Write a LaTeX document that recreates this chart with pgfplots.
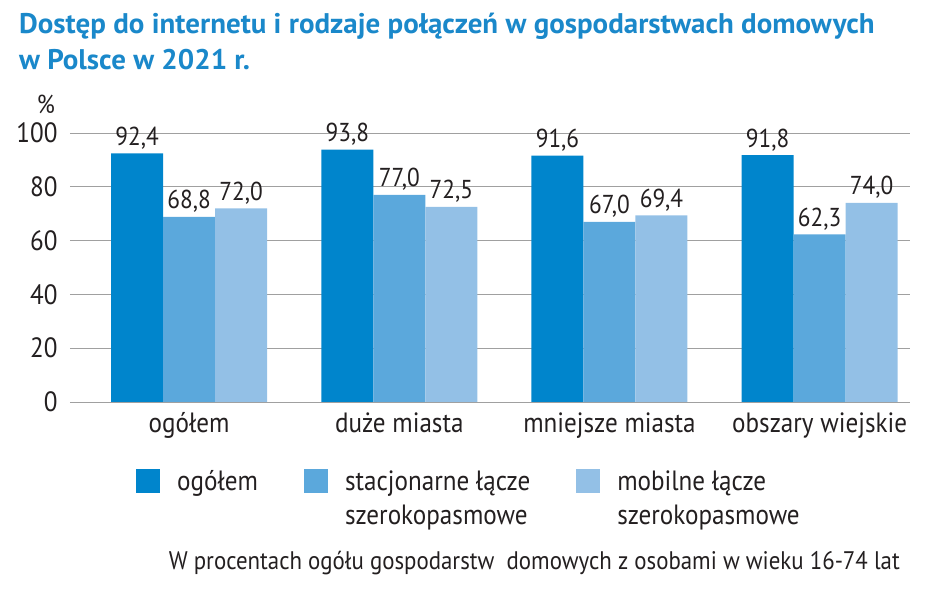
\documentclass[border=0pt]{standalone}
\usepackage{pgfplots}
\pgfplotsset{compat=1.18}
\usepackage{fontspec}
\setmainfont{PT Sans}[FakeStretch=0.9]
\newfontfamily\titlefont{PT Sans}[FakeStretch=1.02]
\definecolor{c1}{HTML}{0085CC}
\definecolor{c2}{HTML}{5BA8DC}
\definecolor{c3}{HTML}{93C0E6}
\definecolor{tcol}{HTML}{1A88CA}
\definecolor{gridc}{HTML}{A0A0A0}
\definecolor{txt}{HTML}{231F20}
\begin{document}
\begin{tikzpicture}[x=1bp,y=1bp]
\path[use as bounding box] (-70,-194) rectangle (870,402);
\begin{axis}[
  at={(0,0)}, anchor=south west,
  scale only axis, width=840bp, height=269bp,
  xmin=-0.567, xmax=3.43, ymin=0, ymax=100,
  axis line style={draw=none},
  major tick length=0pt,
  ymajorgrids, grid style={gridc, line width=0.9pt},
  ytick={0,20,40,60,80,100},
  xtick={0,1,2,3},
  xticklabels={ogółem, duże miasta, mniejsze miasta, obszary wiejskie},
  /pgf/number format/assume math mode=true,
  tick label style={font=\fontsize{28}{32}\selectfont, text=txt},
  yticklabel style={xshift=-9bp},
  xticklabel style={anchor=base, yshift=-31bp, inner sep=0pt},
  ybar=0pt, bar width=52bp,
  clip=false,
  nodes near coords={\pgfmathprintnumber[fixed,fixed zerofill,precision=1,use comma,assume math mode=true]{\pgfplotspointmeta}},
  every node near coord/.append style={font=\fontsize{26}{30}\selectfont, text=txt, anchor=base, inner sep=0pt, yshift=8bp},
  legend columns=3,
  legend cell align=left,
  legend style={draw=none, fill=none, inner sep=0pt, at={(0.0786,-0.245)}, anchor=north west,
    font=\fontsize{28}{35}\selectfont, text=txt,
    /tikz/every odd column/.append style={column sep=15bp},
    /tikz/every even column/.append style={column sep=44bp},
    row sep=9bp},
  legend image code/.code={\fill[#1] (0bp,-12bp) rectangle (24bp,12bp);},
]
\addplot[fill=c1, draw=none] coordinates {(0,92.4) (1,93.8) (2,91.6) (3,91.8)};
\addplot[fill=c2, draw=none] coordinates {(0,68.8) (1,77.0) (2,67.0) (3,62.3)};
\addplot[fill=c3, draw=none] coordinates {(0,72.0) (1,72.5) (2,69.4) (3,74.0)};
\addlegendentry{ogółem}
\addlegendentry{stacjonarne łącze}
\addlegendentry{mobilne łącze}
\addlegendimage{empty legend}\addlegendentry{}
\addlegendimage{empty legend}\addlegendentry{szerokopasmowe}
\addlegendimage{empty legend}\addlegendentry{szerokopasmowe}
\end{axis}
\node[anchor=north west, inner sep=0pt, align=left, text=tcol,
  font=\fontsize{28.5}{36}\titlefont\bfseries\selectfont] at (-51,389)
  {Dostęp do internetu i rodzaje połączeń w gospodarstwach domowych\\w Polsce w 2021 r.};
\node[text=txt, font=\fontsize{26}{30}\selectfont, inner sep=0pt] at (-24,298) {\%};
\node[anchor=base east, text=txt, font=\fontsize{25.5}{30}\selectfont, inner sep=0pt] at (830,-168)
  {W procentach ogółu gospodarstw\ \ domowych z osobami w wieku 16-74 lat};
\end{tikzpicture}
\end{document}
